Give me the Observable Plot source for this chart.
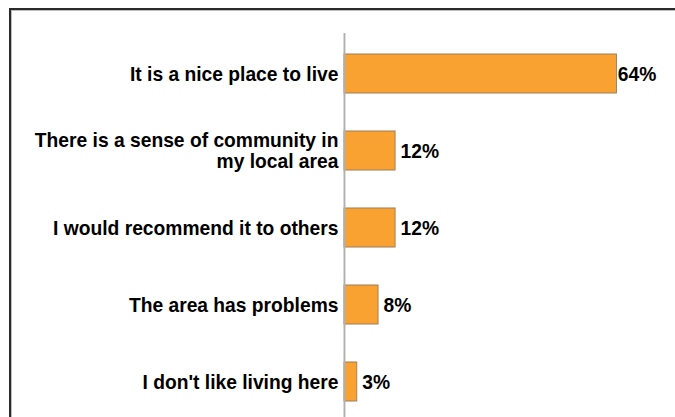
<!DOCTYPE html>
<html>
<head>
<meta charset="utf-8">
<script src="https://cdn.jsdelivr.net/npm/d3@7"></script>
<script src="https://cdn.jsdelivr.net/npm/@observablehq/plot@0.6"></script>
<style>
  html, body { margin: 0; padding: 0; background: #fff; }
  #wrap { position: relative; width: 675px; height: 417px; overflow: hidden; background: #fff; }
  #frame { position: absolute; left: 9px; top: 8px; width: 720px; height: 500px;
           border-top: 2px solid #2a2a2a; border-left: 2px solid #2a2a2a;
           box-shadow: inset 1px 1px 0 #bdbdbd; }
  #chart { position: absolute; left: 0; top: 0; }
</style>
</head>
<body>
<div id="wrap"><div id="frame"></div><div id="chart"></div></div>
<script>
const categories = [
  "It is a nice place to live",
  "There is a sense of community in\nmy local area",
  "I would recommend it to others",
  "The area has problems",
  "I don't like living here"
];
const values = [64, 12, 12, 8, 3];
const valueLabels = ["64%", "12%", "12%", "8%", "3%"];

const data = categories.map((c, i) => ({category: c, value: values[i], label: valueLabels[i]}));

const font = "'Liberation Sans', Arial, sans-serif";
// The reference text is slightly condensed horizontally; draw wider, then squeeze.
const k = 1.065;
const fs = 20.5;

const chart = Plot.plot({
  width: 675 * k,
  height: 417,
  marginTop: 33,
  marginBottom: 0,
  marginLeft: 344 * k,
  marginRight: 33 * k,
  style: {fontFamily: font, fontWeight: "bold", fontSize: fs + "px", color: "#000", background: "transparent", overflow: "visible"},
  x: {domain: [0, 70], axis: null},
  y: {domain: categories, paddingInner: 0.49, paddingOuter: 0.219, align: 0.58, axis: null},
  marks: [
    Plot.axisY({tickSize: 0, tickPadding: 6 * k, lineHeight: 1.0, fontSize: fs, fontWeight: "bold", fill: "#000", label: null}),
    Plot.barX(data, {x: "value", y: "category", fill: "#F9A131", stroke: "#9c7f5a", strokeWidth: 1}),
    Plot.ruleX([0], {stroke: "#b0b0b0", strokeWidth: 2}),
    Plot.text(data.filter(d => d.value < 50), {x: "value", y: "category", text: "label", textAnchor: "start", dx: 5 * k, fontSize: fs, fontWeight: "bold", fill: "#000"}),
    Plot.text(data.filter(d => d.value >= 50), {x: "value", y: "category", text: "label", textAnchor: "start", dx: 1, fontSize: fs, fontWeight: "bold", fill: "#000"})
  ]
});
chart.setAttribute("width", 675);
chart.setAttribute("height", 417);
chart.setAttribute("preserveAspectRatio", "none");
chart.style.width = "675px";
chart.style.height = "417px";
document.getElementById("chart").appendChild(chart);
</script>
</body>
</html>
